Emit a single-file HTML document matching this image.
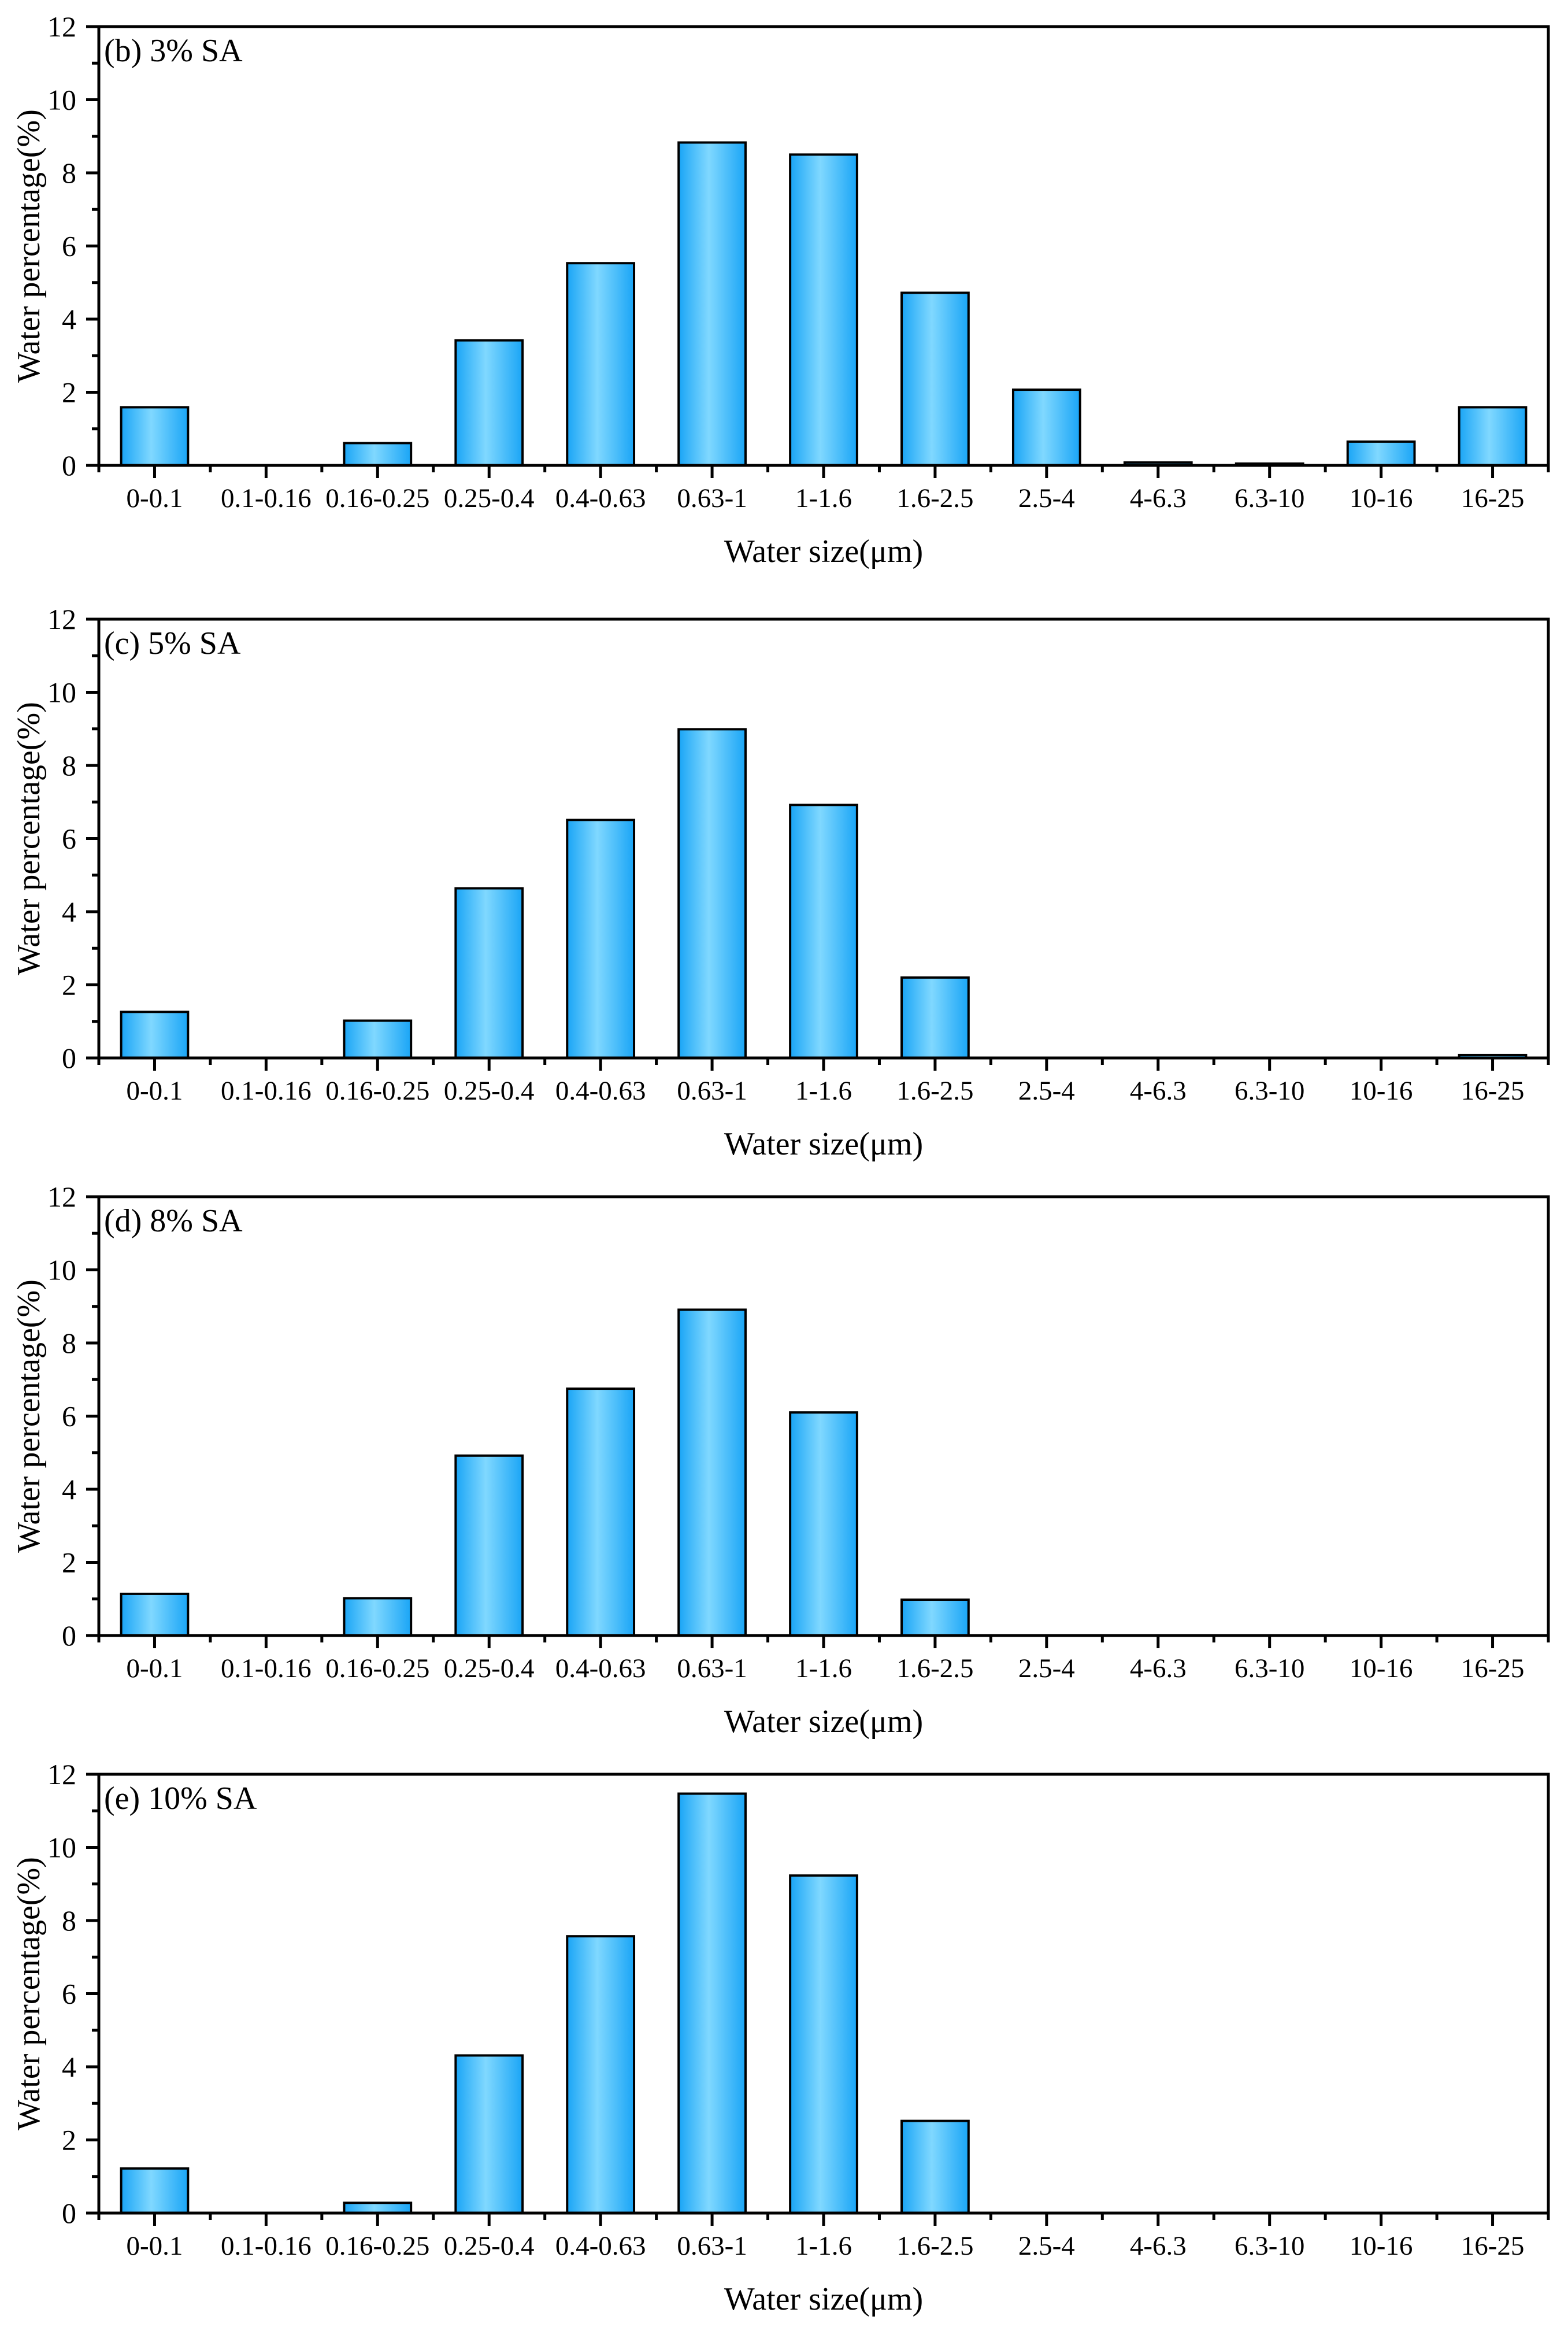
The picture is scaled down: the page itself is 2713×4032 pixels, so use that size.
<!DOCTYPE html>
<html><head><meta charset="utf-8"><style>
html,body{margin:0;padding:0;background:#fff;}
svg{display:block;font-family:"Liberation Serif",serif;}
</style></head><body>
<svg id="chart" width="2713" height="4032" viewBox="0 0 2713 4032" xmlns="http://www.w3.org/2000/svg">
<defs>
<linearGradient id="barGrad" x1="0" y1="0" x2="1" y2="0">
<stop offset="0" stop-color="#1aa5f6"/>
<stop offset="0.45" stop-color="#80d8ff"/>
<stop offset="1" stop-color="#1aa5f6"/>
</linearGradient>
</defs>
</svg>
<script>
const categories = ["0-0.1","0.1-0.16","0.16-0.25","0.25-0.4","0.4-0.63","0.63-1","1-1.6","1.6-2.5","2.5-4","4-6.3","6.3-10","10-16","16-25"];
const panelLabels = ["(b) 3% SA","(c) 5% SA","(d) 8% SA","(e) 10% SA"];
const values3 = [1.59,0,0.61,3.42,5.53,8.83,8.5,4.72,2.07,0.08,0.05,0.65,1.59];
const values5 = [1.26,0,1.02,4.64,6.51,8.99,6.92,2.2,0,0,0,0,0.08];
const values8 = [1.14,0,1.02,4.92,6.75,8.91,6.1,0.98,0,0,0,0,0];
const values10 = [1.22,0,0.28,4.31,7.57,11.47,9.23,2.52,0,0,0,0,0];
const yTicks = [0,2,4,6,8,10,12];
const yMax = 12;

const NS = "http://www.w3.org/2000/svg";
const svg = document.getElementById("chart");
const series = [values3, values5, values8, values10];
const panelTops = [46, 1071, 2070, 3069];
const H = 759, L = 171, R = 2679;

function mk(tag, attrs, parent){
  const e = document.createElementNS(NS, tag);
  for (const k in attrs) e.setAttribute(k, attrs[k]);
  (parent||svg).appendChild(e);
  return e;
}

series.forEach((vals, p) => {
  const top = panelTops[p], bot = top + H;
  const g = mk("g", {});
  
  
  const yS = v => bot - v / yMax * H;
  const step = (R - L) / categories.length;
  const xC = i => L + step * (i + 0.5);
  const bw = step * 0.6;

  vals.forEach((v, i) => {
    const y = yS(v);
    const r = mk("rect", {x: xC(i) - bw/2, y: y, width: bw, height: Math.max(bot - y, 0.5), fill: "url(#barGrad)", stroke: "#000", "stroke-width": 4}, g);
    
    
  });

  const f = mk("rect", {x: L, y: top, width: R - L, height: H, fill: "none", stroke: "#000", "stroke-width": 5}, g);
  
  

  for (let v = 0; v <= yMax; v++) {
    const y = yS(v);
    const major = v % 2 === 0;
    mk("line", {x1: L, x2: L - (major ? 22 : 12), y1: y, y2: y, stroke: "#000", "stroke-width": 5}, g);
  }
  yTicks.forEach(v => {
    const t = mk("text", {x: 132, y: yS(v) + 17, "text-anchor": "end", "font-size": 50}, g);
    t.textContent = v;
    
    
  });

  for (let i = 0; i <= categories.length; i++) {
    const x = L + step * i;
    mk("line", {x1: x, x2: x, y1: bot, y2: bot + 12, stroke: "#000", "stroke-width": 5}, g);
  }
  categories.forEach((c, i) => {
    mk("line", {x1: xC(i), x2: xC(i), y1: bot, y2: bot + 22, stroke: "#000", "stroke-width": 5}, g);
    const t = mk("text", {x: xC(i), y: bot + 72, "text-anchor": "middle", "font-size": 47}, g);
    t.textContent = c;
    
    
  });

  const xt = mk("text", {x: (L + R) / 2, y: bot + 167, "text-anchor": "middle", "font-size": 56}, g);
  xt.textContent = "Water size(\u03bcm)";
  
  

  const yt = mk("text", {x: 0, y: 0, "text-anchor": "middle", "font-size": 56, transform: "translate(68," + (top + H/2) + ") rotate(-90)"}, g);
  yt.textContent = "Water percentage(%)";
  
  

  const pl = mk("text", {x: 180, y: top + 60, "font-size": 56}, g);
  pl.textContent = panelLabels[p];
  
  
});
</script>
</body></html>
